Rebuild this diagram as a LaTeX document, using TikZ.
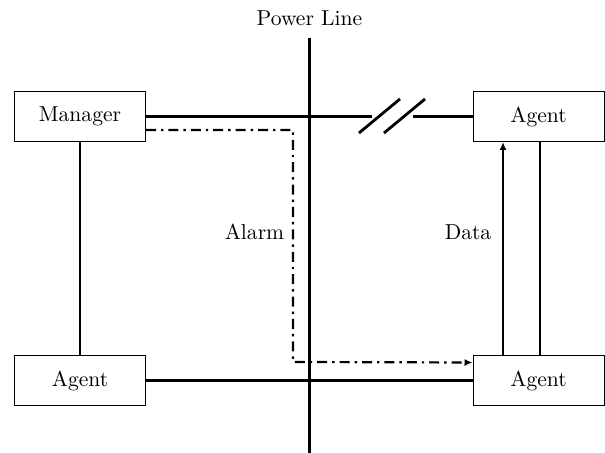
\documentclass[tikz,border=0pt]{standalone}
\usetikzlibrary{arrows.meta,calc}

\tikzset{
  unitbox/.style={draw, line width=0.5pt, minimum width=65.5pt, minimum height=25pt, inner sep=0pt},
  wire/.style={line width=1.4pt},
  alarmline/.style={line width=1.1pt, dash pattern=on 5pt off 2.5pt on 1.2pt off 2.5pt},
}

\begin{document}
\begin{tikzpicture}[x=0.5pt,y=-0.5pt,font=\fontsize{10.8}{13}\selectfont]
            \useasboundingbox (0,0) rectangle (605,453);

            % Draw the power line
            \coordinate (pwrtop) at (309.5,38);
            \coordinate (pwrbot) at (309.5,453);
            \draw [wire] (pwrtop) -- (pwrbot);
            \node (pwrlabel) at (309.5,18) {Power Line};

            % Draw the units
            \node [unitbox] (mgr) at (80,116.5) {Manager};
            \node [unitbox] (agtA) at (538.5,116.5) {Agent};
            \node [unitbox] (agtB) at (80,380.5) {Agent};
            \node [unitbox] (agtC) at (538.5,380.5) {Agent};

            % Draw the links
            \coordinate (brkL) at (372,116.5);
            \coordinate (brkR) at (413,116.5);
            \draw [wire] (mgr.east) -- (brkL);
            \draw [wire] (brkR) -- (agtA.west);
            \draw [wire] (359,133) -- (400,99);
            \draw [wire] (384,133) -- (425,99);
            \draw [wire] (mgr.south) -- (agtB.north);
            \draw [wire] (agtB.east) -- (agtC.west);

            % Alarm and data paths
            \coordinate (bend) at (293,362);
            \draw [alarmline, -{Latex[length=4pt,width=3.5pt]}] ([yshift=6pt]mgr.south east) -- ([yshift=6pt]mgr.south east -| bend) -- (bend) -- ([yshift=9pt]agtC.west);
            \node (alarm) at (254.5,232) {Alarm};
            \draw [wire, -{Latex[length=4pt,width=3.5pt]}] ([xshift=-17.75pt]agtC.north) -- ([xshift=-17.75pt]agtA.south);
            \draw [wire] ([xshift=0.75pt]agtC.north) -- ([xshift=0.75pt]agtA.south);
            \node (data) at (468,232) {Data};
        \end{tikzpicture}
\end{document}
